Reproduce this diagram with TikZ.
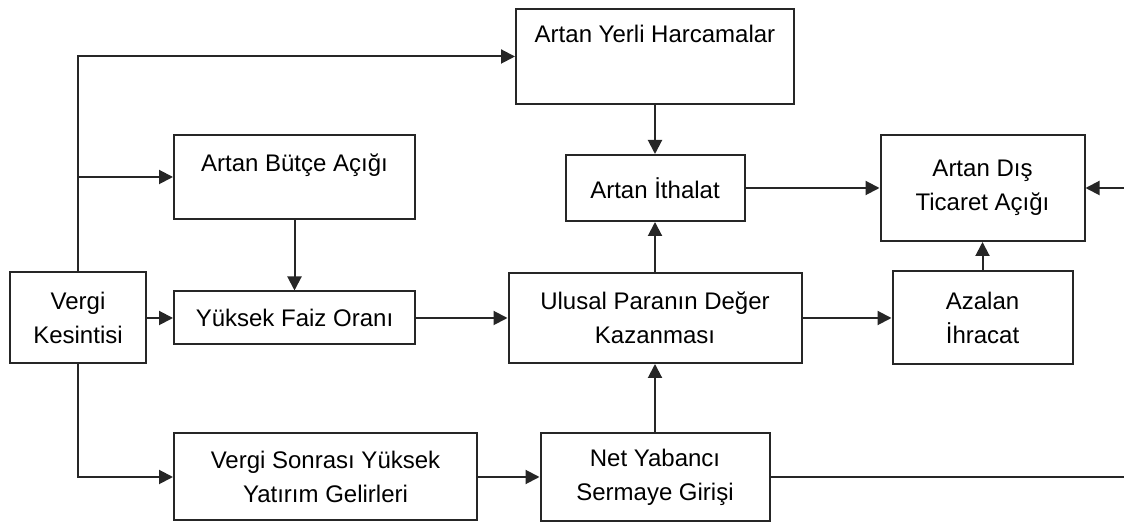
\documentclass[tikz,border=0pt]{standalone}
\usepackage{fontspec}
\setmainfont{Liberation Sans}
\usetikzlibrary{arrows.meta}

\begin{document}
\begin{tikzpicture}[x=0.5pt, y=-0.5pt, line width=1pt,
    box/.style={draw=black!85, align=center, inner sep=0pt, font=\fontsize{12}{17}\selectfont},
    arr/.style={draw=black!85, -{Triangle[length=7pt, width=7pt]}}]
  \useasboundingbox (0,0) rectangle (1124,522);
  % boxes
  \node[box, minimum width=139pt, text height=17pt, text depth=30.5pt] (yerli) at (655,56.5) {Artan Yerli Harcamalar};
  \node[box, minimum width=120.5pt, text height=18.5pt, text depth=23.5pt] (butce) at (294.5,177) {Artan Bütçe Açığı};
  \node[box, minimum width=89.5pt, minimum height=33pt] (ithalat) at (655,188) {Artan İthalat};
  \node[box, minimum width=102pt, minimum height=53pt] (dis) at (982.5,188) {Artan Dış\\Ticaret Açığı};
  \node[box, minimum width=68pt, minimum height=45.5pt] (vergi) at (78,318) {Vergi\\Kesintisi};
  \node[box, minimum width=120.5pt, minimum height=26.5pt] (faiz) at (294.5,318) {Yüksek Faiz Oranı};
  \node[box, minimum width=146.5pt, minimum height=45pt] (ulusal) at (655,318) {Ulusal Paranın Değer\\Kazanması};
  \node[box, minimum width=90pt, minimum height=46.5pt] (azalan) at (982.5,318) {Azalan\\İhracat};
  \node[box, minimum width=151.5pt, minimum height=43.5pt] (sonrasi) at (325.5,477) {Vergi Sonrası Yüksek\\Yatırım Gelirleri};
  \node[box, minimum width=114.5pt, minimum height=44pt] (net) at (655,477) {Net Yabancı\\Sermaye Girişi};
  \coordinate (outnet) at (1124,477);
  \coordinate (indis) at (1124,188);
  % connectors
  \draw[arr] (vergi.north) |- (yerli.west);
  \draw[arr] (vergi.north |- butce.west) -- (butce.west);
  \draw[arr] (vergi.south) |- (sonrasi.west);
  \draw[arr] (vergi.east) -- (faiz.west);
  \draw[arr] (butce.south) -- (faiz.north);
  \draw[arr] (faiz.east) -- (ulusal.west);
  \draw[arr] (sonrasi.east) -- (net.west);
  \draw[arr] (net.north) -- (ulusal.south);
  \draw[arr] (ulusal.north) -- (ithalat.south);
  \draw[arr] (yerli.south) -- (ithalat.north);
  \draw[arr] (ithalat.east) -- (dis.west);
  \draw[arr] (ulusal.east) -- (azalan.west);
  \draw[arr] (azalan.north) -- (dis.south);
  \draw[draw=black!85] (net.east) -- (outnet);
  \draw[arr] (indis) -- (dis.east);
\end{tikzpicture}
\end{document}
